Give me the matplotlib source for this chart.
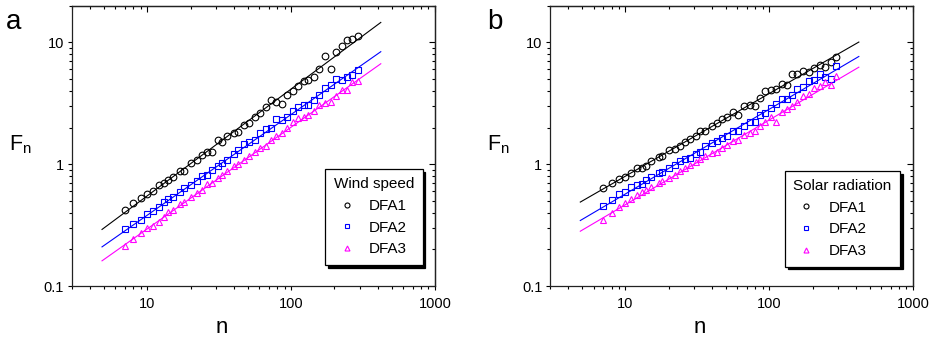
import numpy as np
import matplotlib
matplotlib.use('Agg')
import matplotlib.pyplot as plt
from matplotlib.ticker import LogLocator, FuncFormatter, NullFormatter

plt.rcParams['font.family'] = ['Liberation Sans', 'DejaVu Sans']
plt.rcParams['mathtext.fontset'] = 'custom'
plt.rcParams['mathtext.rm'] = 'Liberation Sans'
plt.rcParams['mathtext.it'] = 'Liberation Sans:italic'

# window sizes
n = [7, 8, 9, 10, 11, 12, 13, 14, 15, 17, 18, 20, 22, 24, 26, 28, 31, 33, 36, 40, 43,
     47, 51, 56, 61, 67, 73, 79, 86, 94, 103, 112, 122, 132, 144, 157, 172, 188, 205,
     224, 243, 267, 290]

# Panel a: wind speed
wind_dfa1 = [0.421, 0.478, 0.532, 0.570, 0.608, 0.676, 0.698, 0.743, 0.792, 0.871, 0.887,
             1.02, 1.09, 1.19, 1.25, 1.27, 1.57, 1.51, 1.69, 1.80, 1.83,
             2.11, 2.17, 2.43, 2.63, 2.94, 3.38, 3.27, 3.13, 3.71, 3.96,
             4.40, 4.78, 4.93, 5.19, 6.04, 7.67, 6.04, 8.28, 9.40, 10.4, 10.6, 11.3]
wind_dfa2 = [0.292, 0.323, 0.349, 0.391, 0.416, 0.449, 0.493, 0.519, 0.536, 0.596, 0.635,
             0.676, 0.721, 0.807, 0.817, 0.898, 0.975, 1.03, 1.09, 1.22, 1.31,
             1.47, 1.51, 1.57, 1.82, 1.94, 1.98, 2.36, 2.31, 2.43, 2.71,
             2.94, 3.07, 3.07, 3.34, 3.71, 4.21, 4.49, 5.03, 4.93, 5.19, 5.42, 5.89]
wind_dfa3 = [0.213, 0.242, 0.271, 0.302, 0.313, 0.338, 0.371, 0.403, 0.421, 0.472, 0.493,
             0.542, 0.585, 0.615, 0.689, 0.698, 0.777, 0.817, 0.871, 0.975, 1.01,
             1.09, 1.16, 1.27, 1.35, 1.42, 1.57, 1.69, 1.82, 1.98, 2.24,
             2.39, 2.46, 2.54, 2.71, 3.07, 3.17, 3.27, 3.60, 4.03, 4.03, 4.69, 4.78]

# Panel b: solar radiation
solar_dfa1 = [0.635, 0.698, 0.757, 0.792, 0.843, 0.927, 0.927, 0.969, 1.06, 1.14, 1.17,
              1.30, 1.34, 1.40, 1.51, 1.60, 1.71, 1.89, 1.86, 2.04, 2.17,
              2.34, 2.46, 2.69, 2.54, 3.02, 3.07, 3.02, 3.49, 3.96, 4.03,
              4.13, 4.54, 4.43, 5.53, 5.46, 5.78, 5.67, 6.15, 6.55, 6.23, 6.85, 7.57]
solar_dfa2 = [0.455, 0.509, 0.567, 0.596, 0.647, 0.676, 0.685, 0.743, 0.782, 0.843, 0.859,
              0.927, 0.988, 1.07, 1.10, 1.13, 1.22, 1.25, 1.40, 1.49, 1.56,
              1.64, 1.69, 1.86, 1.89, 2.04, 2.24, 2.20, 2.54, 2.63, 2.89,
              3.13, 3.42, 3.42, 3.71, 4.13, 4.30, 4.78, 4.93, 5.53, 5.19, 5.00, 6.35]
solar_dfa3 = [0.349, 0.401, 0.449, 0.484, 0.519, 0.560, 0.589, 0.615, 0.647, 0.707, 0.721,
              0.767, 0.817, 0.871, 0.927, 0.988, 1.05, 1.10, 1.17, 1.23, 1.27,
              1.35, 1.44, 1.54, 1.58, 1.74, 1.82, 1.86, 2.07, 2.20, 2.43,
              2.24, 2.66, 2.83, 3.02, 3.27, 3.60, 3.76, 4.21, 4.35, 4.69, 4.49, 5.32]

# power-law fits F = A * n^alpha
fit_n_range = [4.85, 420]
wind_alpha = [0.877, 0.827, 0.835]
wind_log10A = [-1.137, -1.246, -1.366]
solar_alpha = [0.678, 0.695, 0.695]
solar_log10A = [-0.776, -0.939, -1.027]

series_labels = ['DFA1', 'DFA2', 'DFA3']
colors = ['black', '#0000ff', '#ff00ff']
markers = ['o', 's', '^']
msizes = [4.8, 4.3, 4.8]

W, H = 933, 342
fig = plt.figure(figsize=(W / 100, H / 100), dpi=100)

def px_axes(x0, x1, ytop, ybot):
    return fig.add_axes([x0 / W, (H - ybot) / H, (x1 - x0) / W, (ybot - ytop) / H])

ax_a = px_axes(72, 435, 5.7, 286)
ax_b = px_axes(550.3, 913, 5.7, 286)

fmt = FuncFormatter(lambda v, p: '%g' % v)

def setup(ax, data, alphas, logAs, title, leg_anchor, letter, letter_x):
    nn = np.array(fit_n_range)
    for d, a, la, c, m, ms, lab in zip(data, alphas, logAs, colors, markers, msizes, series_labels):
        ax.plot(nn, 10 ** la * nn ** a, color=c, lw=0.8, zorder=2)
        ax.plot(n, d, ls='none', marker=m, ms=ms, mfc='none', mec=c, mew=0.8,
                label=lab, zorder=3)
    ax.set_xscale('log')
    ax.set_yscale('log')
    ax.set_xlim(3, 1000)
    ax.set_ylim(0.1, 20)
    for ax_ in (ax.xaxis, ax.yaxis):
        ax_.set_major_locator(LogLocator(base=10, numticks=10))
        ax_.set_minor_locator(LogLocator(base=10, subs=np.arange(2, 10), numticks=20))
        ax_.set_major_formatter(fmt)
        ax_.set_minor_formatter(NullFormatter())
    ax.tick_params(which='major', direction='out', length=3.2, width=0.8,
                   labelsize=10.5, colors='black', pad=2.5)
    ax.tick_params(axis='x', which='major', pad=5)
    ax.tick_params(which='minor', direction='out', length=2.0, width=0.8)
    for s in ax.spines.values():
        s.set_linewidth(0.9)
        s.set_color('#222222')
    # mirrored inward ticks
    secx = ax.secondary_xaxis('top')
    secy = ax.secondary_yaxis('right')
    for sec, axis in ((secx, 'x'), (secy, 'y')):
        a_ = sec.xaxis if axis == 'x' else sec.yaxis
        a_.set_major_locator(LogLocator(base=10, numticks=10))
        a_.set_minor_locator(LogLocator(base=10, subs=np.arange(2, 10), numticks=20))
        a_.set_major_formatter(NullFormatter())
        a_.set_minor_formatter(NullFormatter())
        sec.tick_params(which='major', direction='in', length=4.2, width=0.8)
        sec.tick_params(which='minor', direction='in', length=2.2, width=0.8)
        for s in sec.spines.values():
            s.set_linewidth(0.9)
            s.set_color('#222222')
    # axis labels
    ax.text(0.413, -0.168, 'n', transform=ax.transAxes, fontsize=16,
            ha='center', va='baseline')
    ax.text(-0.1735, 0.505, r'F$_{\mathrm{n}}$', transform=ax.transAxes, fontsize=15.5,
            ha='left', va='center')
    fig.text(letter_x / W, (H - 29) / H, letter, fontsize=20, ha='left', va='baseline')
    leg = ax.legend(loc='upper left', bbox_to_anchor=leg_anchor, title=title,
                    alignment='left', fontsize=11, title_fontsize=11,
                    frameon=True, fancybox=False, edgecolor='black',
                    shadow={'color': 'black', 'alpha': 1.0},
                    handlelength=1.7, handletextpad=0.6, labelspacing=0.5,
                    borderpad=0.55, borderaxespad=0, markerscale=0.75)
    leg.get_frame().set_linewidth(0.9)

setup(ax_a, [wind_dfa1, wind_dfa2, wind_dfa3], wind_alpha, wind_log10A,
      'Wind speed', (0.698, 0.4174), 'a', 6)
setup(ax_b, [solar_dfa1, solar_dfa2, solar_dfa3], solar_alpha, solar_log10A,
      'Solar radiation', (0.647, 0.411), 'b', 487)

fig.savefig('out.png', dpi=100)
